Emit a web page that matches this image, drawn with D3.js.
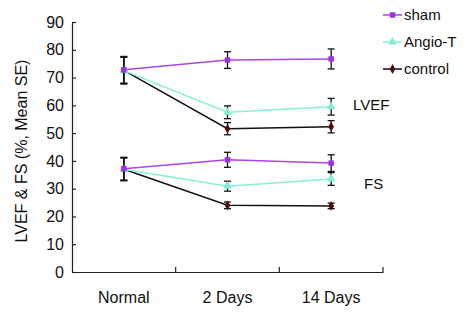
<!DOCTYPE html>
<html>
<head>
<meta charset="utf-8">
<script src="https://cdn.jsdelivr.net/npm/d3@7"></script>
<style>
  body { margin: 0; background: #fff; }
  text { font-family: Arial, "Liberation Sans", sans-serif; fill: #111; }
</style>
</head>
<body>
<div id="container"></div>
<script>
const w = 467;
const h = 317;

const categories = ["Normal", "2 Days", "14 Days"];
const yTicks = [0, 10, 20, 30, 40, 50, 60, 70, 80, 90];

// LVEF group
const shamLVEF = [72.8, 76.3, 76.7];
const shamLVEFErr = [4.8, 3.0, 3.6];
const angioLVEF = [72.5, 57.5, 59.5];
const angioLVEFErr = [4.8, 2.3, 3.0];
const controlLVEF = [72.6, 51.6, 52.3];
const controlLVEFErr = [4.8, 2.2, 2.2];

// FS group
const shamFS = [37.2, 40.4, 39.2];
const shamFSErr = [4.1, 2.7, 3.0];
const angioFS = [37.0, 30.9, 33.5];
const angioFSErr = [4.1, 1.8, 2.3];
const controlFS = [37.0, 24.0, 23.8];
const controlFSErr = [4.1, 1.2, 1.0];

const seriesNames = ["sham", "Angio-T", "control"];
const seriesColors = ["#a845ec", "#86f2d6", "#111111"];
const markerColors = ["#a030e8", "#7eefd2", "#5a0a0a"];
const markerTypes = [d3.symbolSquare, d3.symbolTriangle, d3.symbolDiamond];
const markerSizes = [30, 34, 28];

const margin = {left: 72, right: 84, top: 22, bottom: 45};

const svg = d3.select("#container")
  .append("svg")
  .attr("width", w)
  .attr("height", h);

const xScale = d3.scaleBand()
  .domain(categories)
  .range([margin.left, w - margin.right]);

const yScale = d3.scaleLinear()
  .domain([0, 90])
  .range([h - margin.bottom, margin.top]);

// axes
const xAxis = d3.axisBottom(xScale).tickSize(0).tickPadding(20);
const gx = svg.append("g")
  .attr("transform", "translate(0," + (h - margin.bottom) + ")")
  .call(xAxis);
gx.selectAll("text").style("font-size", "16px");
gx.select(".domain").attr("stroke", "#222").attr("stroke-width", 1.2);
// inward tick marks on category boundaries
const bounds = categories.map((c) => xScale(c)).concat([xScale(categories[2]) + xScale.bandwidth()]);
gx.selectAll(".bound")
  .data(bounds.slice(1))
  .enter()
  .append("line")
  .attr("x1", (d) => d)
  .attr("x2", (d) => d)
  .attr("y1", 0)
  .attr("y2", -5)
  .attr("stroke", "#222")
  .attr("stroke-width", 1.2);

const yAxis = d3.axisLeft(yScale).tickValues(yTicks).tickSizeInner(-4).tickSizeOuter(0).tickPadding(8);
const gy = svg.append("g")
  .attr("transform", "translate(" + margin.left + ",0)")
  .call(yAxis);
gy.selectAll("text").style("font-size", "16px");
gy.selectAll("line").attr("stroke", "#222").attr("stroke-width", 1.2);
gy.select(".domain").attr("stroke", "#222").attr("stroke-width", 1.2);

svg.append("text")
  .attr("transform", "translate(27," + ((margin.top + h - margin.bottom) / 2 + 4) + ") rotate(-90)")
  .attr("text-anchor", "middle")
  .style("font-size", "16px")
  .text("LVEF & FS (%, Mean SE)");

const cx = (i) => xScale(categories[i]) + xScale.bandwidth() / 2;

const groups = [
  [shamLVEF, shamLVEFErr, angioLVEF, angioLVEFErr, controlLVEF, controlLVEFErr],
  [shamFS, shamFSErr, angioFS, angioFSErr, controlFS, controlFSErr]
];

const line = d3.line()
  .x((d, i) => cx(i))
  .y((d) => yScale(d));

groups.forEach((g) => {
  // draw order: control, angio, sham on top
  [2, 1, 0].forEach((s) => {
    const vals = g[s * 2];
    const errs = g[s * 2 + 1];
    svg.append("path")
      .datum(vals)
      .attr("fill", "none")
      .attr("stroke", seriesColors[s])
      .attr("stroke-width", 1.5)
      .attr("d", line);

    const eb = svg.append("g");
    vals.forEach((v, i) => {
      const x = cx(i);
      eb.append("line")
        .attr("x1", x).attr("x2", x)
        .attr("y1", yScale(v + errs[i])).attr("y2", yScale(v - errs[i]))
        .attr("stroke", "#111").attr("stroke-width", 1.3);
      [v + errs[i], v - errs[i]].forEach((e) => {
        eb.append("line")
          .attr("x1", x - 3.5).attr("x2", x + 3.5)
          .attr("y1", yScale(e)).attr("y2", yScale(e))
          .attr("stroke", "#111").attr("stroke-width", 1.3);
      });
    });

    svg.selectAll(null)
      .data(vals)
      .enter()
      .append("path")
      .attr("transform", (d, i) => "translate(" + cx(i) + "," + yScale(d) + ")")
      .attr("d", d3.symbol().type(markerTypes[s]).size(markerSizes[s]))
      .attr("fill", markerColors[s]);
  });
});

// group labels
svg.append("text")
  .attr("x", 353).attr("y", 110)
  .style("font-size", "15px")
  .text("LVEF");
svg.append("text")
  .attr("x", 364).attr("y", 189)
  .style("font-size", "15px")
  .text("FS");

// legend
const legend = svg.append("g");
seriesNames.forEach((name, i) => {
  const ly = 15 + i * 27;
  legend.append("line")
    .attr("x1", 383).attr("x2", 402)
    .attr("y1", ly).attr("y2", ly)
    .attr("stroke", seriesColors[i])
    .attr("stroke-width", 1.5);
  legend.append("path")
    .attr("transform", "translate(392.5," + ly + ")")
    .attr("d", d3.symbol().type(markerTypes[i]).size(markerSizes[i]))
    .attr("fill", markerColors[i]);
  legend.append("text")
    .attr("x", 404).attr("y", ly + 5)
    .style("font-size", "15px")
    .text(name);
});
</script>
</body>
</html>
